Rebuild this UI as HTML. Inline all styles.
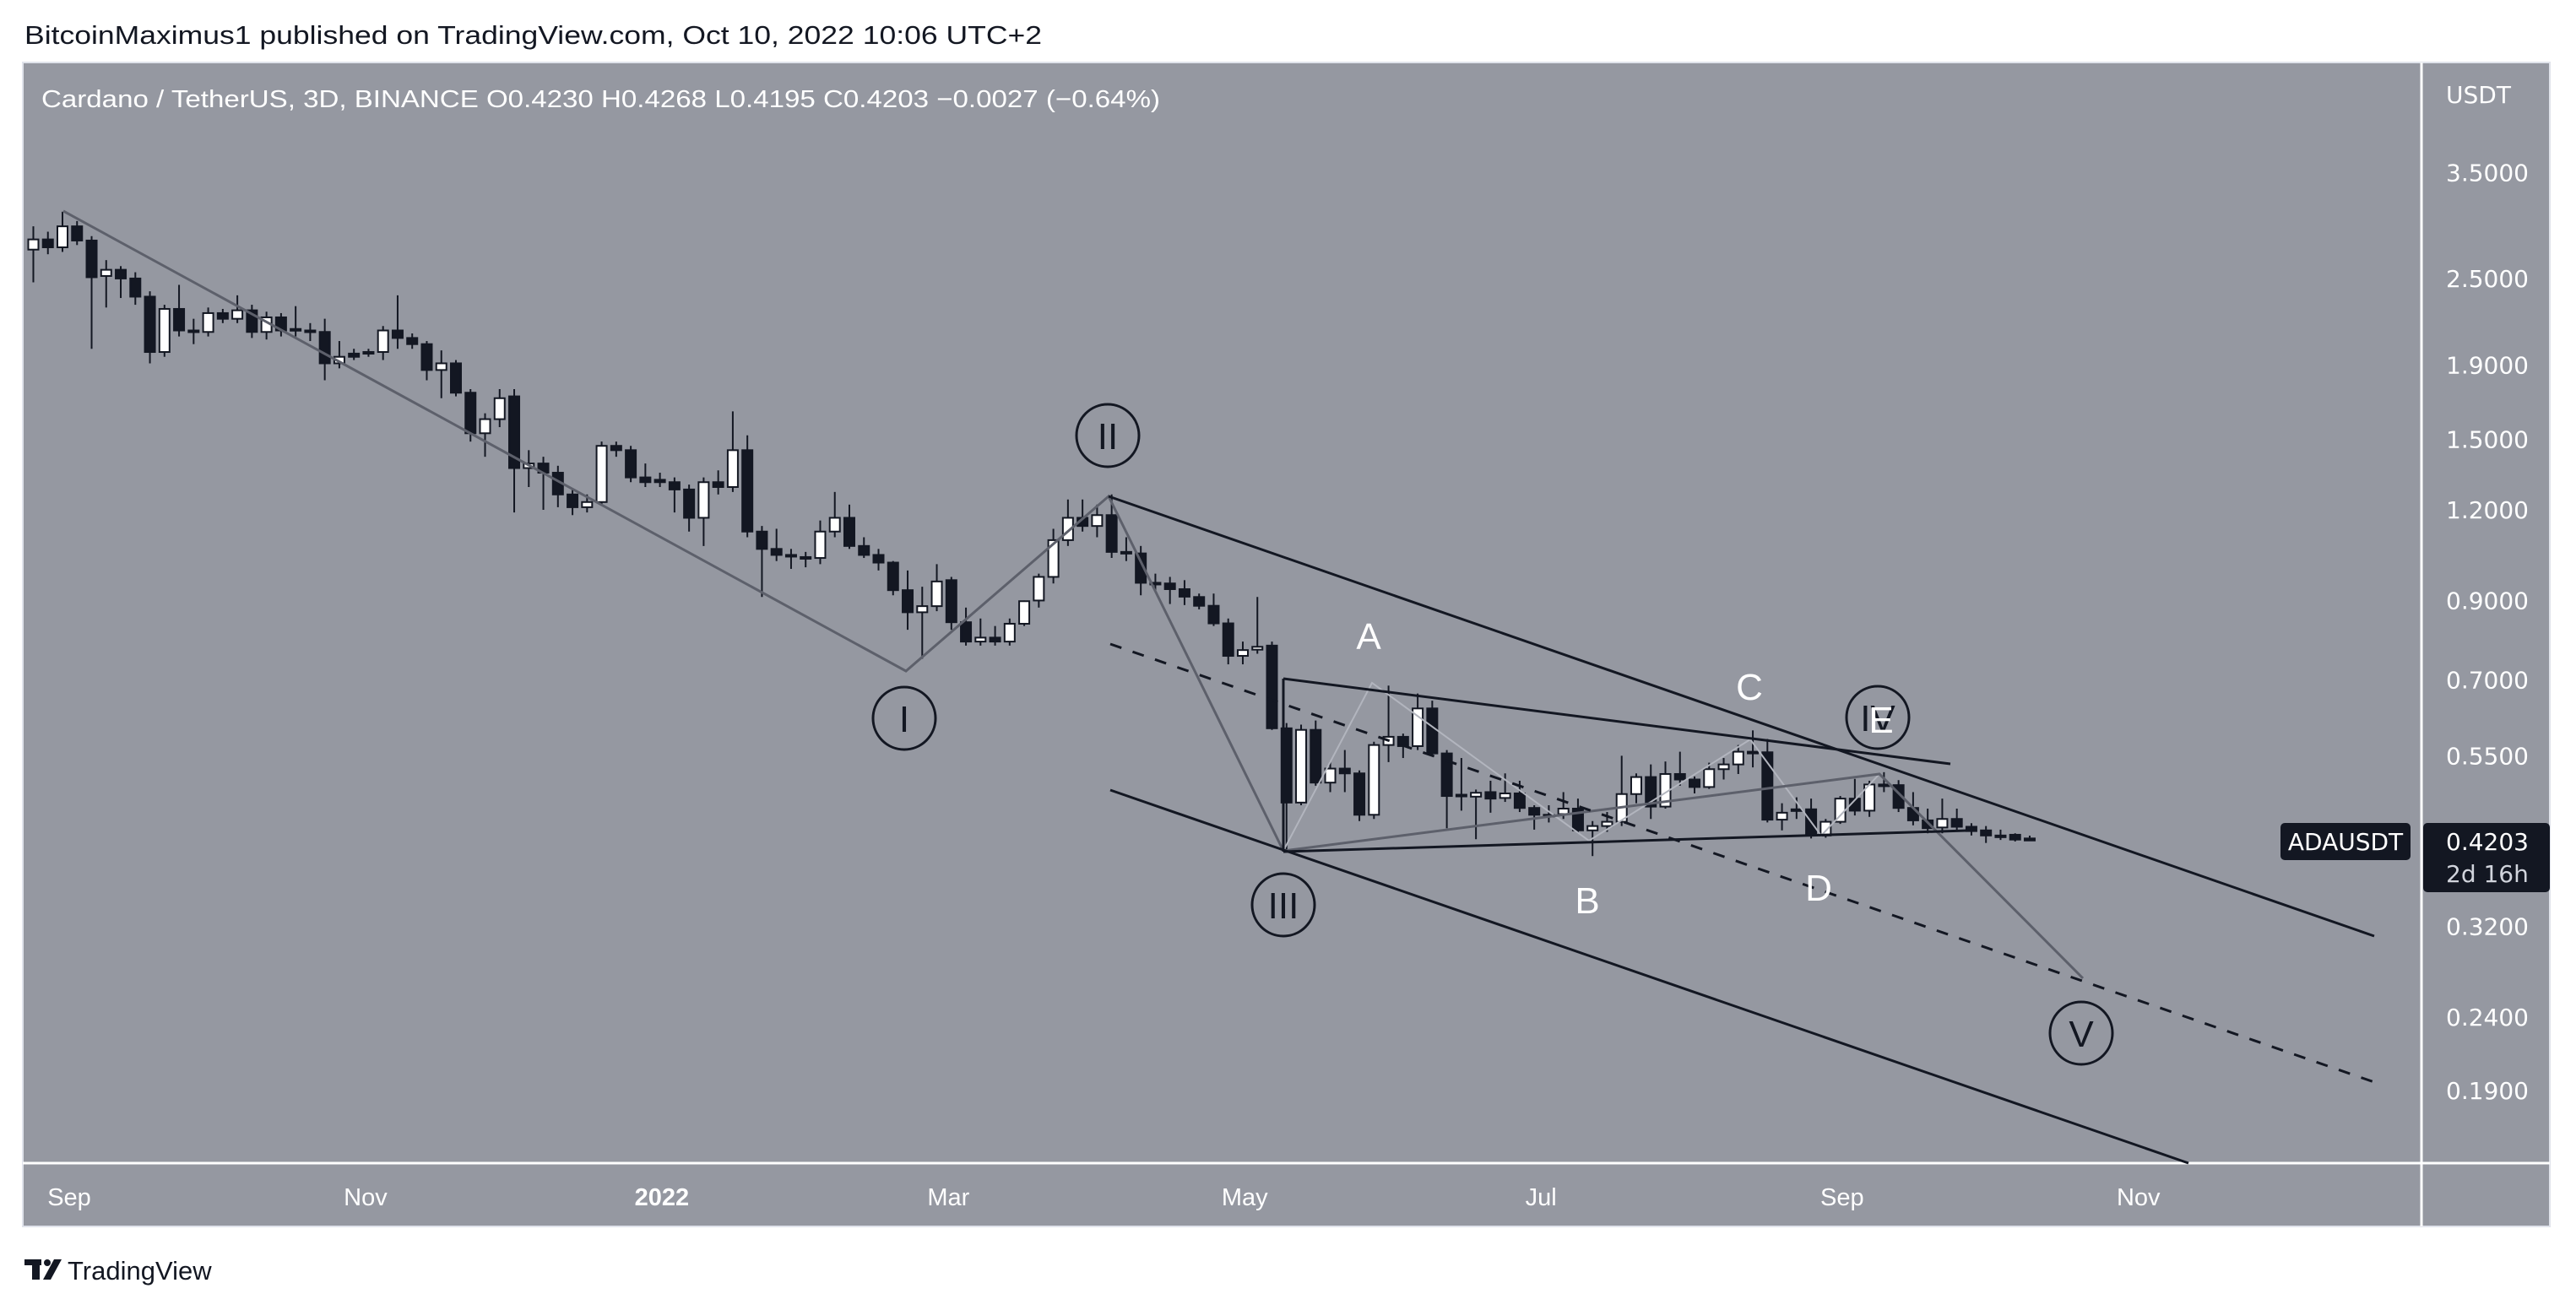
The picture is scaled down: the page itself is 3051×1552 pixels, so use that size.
<!DOCTYPE html>
<html><head><meta charset="utf-8"><style>
html,body{margin:0;padding:0;background:#fff;}
svg{display:block;font-family:"Liberation Sans","DejaVu Sans",sans-serif;}
</style></head><body>
<svg id="chart" xmlns="http://www.w3.org/2000/svg" width="3051" height="1552" viewBox="0 0 3051 1552">
<text x="29" y="52" font-size="31" fill="#131722" textLength="1205" lengthAdjust="spacingAndGlyphs">BitcoinMaximus1 published on TradingView.com, Oct 10, 2022 10:06 UTC+2</text>
<rect x="27" y="74" width="2993" height="1379" fill="#9598a1" stroke="#e0e3eb" stroke-width="2"/>
<line x1="2868" y1="74" x2="2868" y2="1453" stroke="#ffffff" stroke-width="3"/>
<line x1="27" y1="1378" x2="3020" y2="1378" stroke="#ffffff" stroke-width="3"/>
<g id="plot"></g>
<g id="overlay"></g>
<g id="yaxis"></g>
<g id="xaxis"></g>
<text x="49" y="127" font-size="29" fill="#ffffff" textLength="1325" lengthAdjust="spacingAndGlyphs">Cardano / TetherUS, 3D, BINANCE  O0.4230  H0.4268  L0.4195  C0.4203  −0.0027 (−0.64%)</text>
<text x="2897" y="122" font-size="28" fill="#ffffff" font-family="DejaVu Sans, sans-serif">USDT</text>
<rect x="2701" y="975" width="154" height="44" rx="5" fill="#131722"/>
<text x="2778" y="1007" font-size="28" fill="#ffffff" text-anchor="middle" font-family="DejaVu Sans, sans-serif">ADAUSDT</text>
<rect x="2870" y="975" width="150" height="82" rx="5" fill="#131722"/>
<text x="2897" y="1007" font-size="28" fill="#ffffff" font-family="DejaVu Sans, sans-serif">0.4203</text>
<text x="2897" y="1045" font-size="28" fill="#d1d4dc" font-family="DejaVu Sans, sans-serif">2d 16h</text>
<g>
<rect x="29" y="1492" width="20" height="7" fill="#131722"/>
<rect x="38" y="1492" width="9" height="24" fill="#131722"/>
<circle cx="56" cy="1496" r="4" fill="#131722"/>
<polygon points="64,1492 73,1492 60,1516 51,1516" fill="#131722"/>
<text x="80" y="1516" font-size="31" fill="#131722">TradingView</text>
</g>
</svg>
<script>
const opens=[2.74,2.83,2.76,2.95,2.82,2.52,2.57,2.50,2.36,1.98,2.27,2.12,2.11,2.24,2.2,2.26,2.11,2.21,2.13,2.12,2.11,1.91,1.97,1.98,1.98,2.12,2.07,2.03,1.87,1.91,1.74,1.53,1.60,1.72,1.37,1.39,1.35,1.26,1.21,1.23,1.47,1.45,1.33,1.32,1.31,1.28,1.17,1.31,1.29,1.45,1.12,1.06,1.04,1.033,1.03,1.12,1.17,1.07,1.04,1.015,0.93,0.867,0.884,0.96,0.84,0.79,0.80,0.79,0.836,0.90,0.97,1.09,1.17,1.14,1.18,1.05,1.045,0.952,0.95,0.933,0.91,0.885,0.837,0.755,0.77,0.78,0.60,0.474,0.597,0.505,0.528,0.52,0.456,0.569,0.584,0.567,0.639,0.554,0.486,0.483,0.49,0.481,0.488,0.466,0.456,0.457,0.465,0.434,0.44,0.446,0.487,0.514,0.468,0.519,0.51,0.498,0.527,0.535,0.557,0.556,0.449,0.464,0.464,0.427,0.446,0.48,0.462,0.502,0.501,0.466,0.448,0.438,0.45,0.439,0.434,0.427,0.428,0.423];
const highs=[2.95,2.9,3.09,3.0,2.86,2.65,2.6,2.55,2.4,2.3,2.45,2.2,2.28,2.27,2.37,2.3,2.25,2.24,2.29,2.17,2.2,2.05,2.0,2.0,2.15,2.37,2.1,2.05,1.99,1.93,1.76,1.63,1.76,1.76,1.45,1.42,1.38,1.28,1.26,1.49,1.49,1.47,1.39,1.35,1.33,1.3,1.33,1.36,1.64,1.52,1.14,1.13,1.06,1.05,1.16,1.27,1.22,1.10,1.06,1.02,0.99,0.94,1.01,0.97,0.88,0.85,0.83,0.85,0.90,0.98,1.13,1.24,1.24,1.22,1.26,1.10,1.07,0.98,0.97,0.96,0.92,0.92,0.85,0.79,0.91,0.79,0.61,0.607,0.615,0.54,0.56,0.525,0.575,0.687,0.59,0.67,0.655,0.56,0.546,0.494,0.508,0.52,0.508,0.47,0.47,0.49,0.48,0.447,0.46,0.55,0.52,0.535,0.54,0.557,0.515,0.538,0.546,0.569,0.596,0.58,0.473,0.482,0.48,0.45,0.484,0.511,0.508,0.522,0.509,0.49,0.465,0.48,0.465,0.444,0.44,0.435,0.43,0.4268];
const lows=[2.47,2.7,2.72,2.78,2.0,2.28,2.35,2.3,1.91,1.95,2.08,2.03,2.08,2.17,2.17,2.07,2.06,2.08,2.08,2.05,1.81,1.88,1.93,1.95,1.93,2.0,2.0,1.81,1.71,1.72,1.49,1.42,1.56,1.19,1.29,1.2,1.21,1.18,1.19,1.22,1.42,1.31,1.29,1.29,1.19,1.12,1.07,1.26,1.27,1.1,0.91,1.02,0.995,1.0,1.01,1.1,1.06,1.03,0.99,0.915,0.82,0.748,0.87,0.82,0.78,0.78,0.78,0.78,0.83,0.88,0.95,1.07,1.12,1.10,1.03,1.02,0.915,0.93,0.89,0.887,0.875,0.83,0.735,0.735,0.76,0.597,0.405,0.47,0.50,0.49,0.49,0.447,0.45,0.539,0.546,0.56,0.55,0.437,0.462,0.422,0.459,0.475,0.46,0.435,0.445,0.45,0.43,0.40,0.432,0.44,0.473,0.45,0.465,0.50,0.488,0.495,0.51,0.519,0.53,0.445,0.434,0.45,0.423,0.424,0.443,0.455,0.453,0.49,0.46,0.441,0.43,0.43,0.432,0.427,0.417,0.421,0.419,0.4195];
const closes=[2.83,2.76,2.95,2.82,2.51,2.57,2.50,2.36,1.98,2.27,2.12,2.11,2.24,2.2,2.26,2.11,2.21,2.12,2.12,2.11,1.91,1.95,1.95,1.97,2.12,2.07,2.03,1.87,1.91,1.74,1.53,1.60,1.71,1.37,1.39,1.35,1.26,1.21,1.23,1.47,1.45,1.33,1.31,1.31,1.28,1.17,1.31,1.29,1.45,1.12,1.06,1.04,1.035,1.03,1.12,1.17,1.07,1.04,1.015,0.93,0.867,0.884,0.956,0.84,0.79,0.80,0.79,0.836,0.898,0.97,1.09,1.17,1.14,1.18,1.05,1.045,0.952,0.95,0.933,0.911,0.885,0.837,0.755,0.769,0.777,0.60,0.474,0.597,0.505,0.528,0.52,0.456,0.569,0.584,0.567,0.639,0.554,0.484,0.484,0.489,0.48,0.488,0.466,0.456,0.455,0.465,0.434,0.44,0.446,0.487,0.514,0.468,0.519,0.51,0.498,0.527,0.535,0.557,0.556,0.449,0.459,0.462,0.427,0.446,0.48,0.462,0.502,0.501,0.466,0.448,0.437,0.45,0.439,0.433,0.427,0.4265,0.4215,0.4203];
const priceTicks=[3.5,2.5,1.9,1.5,1.2,0.9,0.7,0.55,0.32,0.24,0.19];
const priceTickLabels=["3.5000","2.5000","1.9000","1.5000","1.2000","0.9000","0.7000","0.5500","0.3200","0.2400","0.1900"];
const timeTickDays=[0,61,122,181,242,303,365,426];
const timeTickLabels=["Sep","Nov","2022","Mar","May","Jul","Sep","Nov"];

const NS="http://www.w3.org/2000/svg";
const PX_PER_DAY=5.753, X_SEP1=74, FIRST_DAY=-6;
function xDay(d){return X_SEP1+d*PX_PER_DAY;}
function xIdx(i){return xDay(FIRST_DAY+3*i);}
function yP(p){return 204.3+(Math.log(3.5)-Math.log(p))*373.4;}
function mk(tag,attrs,parent){const e=document.createElementNS(NS,tag);for(const k in attrs)e.setAttribute(k,attrs[k]);parent.appendChild(e);return e;}

const plot=document.getElementById('plot');
for(let i=0;i<closes.length;i++){
  const o=opens[i],c=closes[i],h=highs[i],l=lows[i];
  const x=xIdx(i);
  const g=mk('g',{},plot);
  
  
  const w=mk('line',{x1:x,x2:x,y1:yP(h),y2:yP(l),stroke:'#131722','stroke-width':2},g);
  
  
  const top=yP(Math.max(o,c)),bot=yP(Math.min(o,c));
  const b=mk('rect',{x:x-6,y:top,width:12,height:Math.max(2,bot-top),fill:c<o?'#131722':'#ffffff',stroke:'#131722','stroke-width':2},g);
  
  
}

const yax=document.getElementById('yaxis');
for(let i=0;i<priceTicks.length;i++){
  const t=mk('text',{x:2897,y:yP(priceTicks[i])+10,'font-size':28,fill:'#ffffff','font-family':'DejaVu Sans, sans-serif'},yax);
  t.textContent=priceTickLabels[i];
  
  
}
const xax=document.getElementById('xaxis');
for(let i=0;i<timeTickDays.length;i++){
  const t=mk('text',{x:xDay(timeTickDays[i])+8,y:1428,'font-size':29,fill:'#ffffff','text-anchor':'middle','font-weight':timeTickLabels[i]==='2022'?'bold':'normal'},xax);
  t.textContent=timeTickLabels[i];
  
  
}

const ov=document.getElementById('overlay');
function ln(pts,stroke,sw,name,dash){
  const p=mk('polyline',{points:pts.map(q=>q.join(',')).join(' '),fill:'none',stroke:stroke,'stroke-width':sw},ov);
  if(dash)p.setAttribute('stroke-dasharray',dash);
  
  
}
ln([[1520,1008],[1625,809],[1882,996],[2073,876],[2157,990],[2226,917]],'#b2b5be',2,'abcde-zigzag');
ln([[75,250],[1073,795],[1313,588],[1520,1008]],'#5d606b',3,'impulse-wave-line');
ln([[1520,1008],[2226,917],[2467,1159]],'#5d606b',3,'triangle-wave-line');
ln([[1313,588],[2812,1109]],'#131722',3,'channel-upper');
ln([[1315,936],[2592,1378]],'#131722',3,'channel-lower');
ln([[1315,763],[2812,1282]],'#131722',3,'channel-mid-dashed','14,14');
ln([[1520,804],[2310,905]],'#131722',3,'triangle-top');
ln([[1520,804],[1520,1009]],'#131722',3,'triangle-left');
ln([[1520,1009],[2329,984]],'#131722',3,'triangle-bottom');

function circ(cx,cy,label,name){
  const c=mk('circle',{cx:cx,cy:cy,r:37,fill:'none',stroke:'#131722','stroke-width':3},ov);
  
  
  const t=mk('text',{x:cx,y:cy+16,'font-size':44,fill:'#131722','text-anchor':'middle'},ov);
  t.textContent=label;
  
  
}
circ(1071,851,'I','wave-1');
circ(1312,516,'II','wave-2');
circ(1520,1072,'III','wave-3');
circ(2224,850,'IV','wave-4');
circ(2465,1224,'V','wave-5');
function letter(x,y,s,name){
  const t=mk('text',{x:x,y:y+16,'font-size':44,fill:'#ffffff','text-anchor':'middle'},ov);
  t.textContent=s;
  
  
}
letter(1621,753,'A','wave-a-label');
letter(1880,1066,'B','wave-b-label');
letter(2072,813,'C','wave-c-label');
letter(2154,1051,'D','wave-d-label');
letter(2228,852,'E','wave-e-label');
</script>
</body></html>
